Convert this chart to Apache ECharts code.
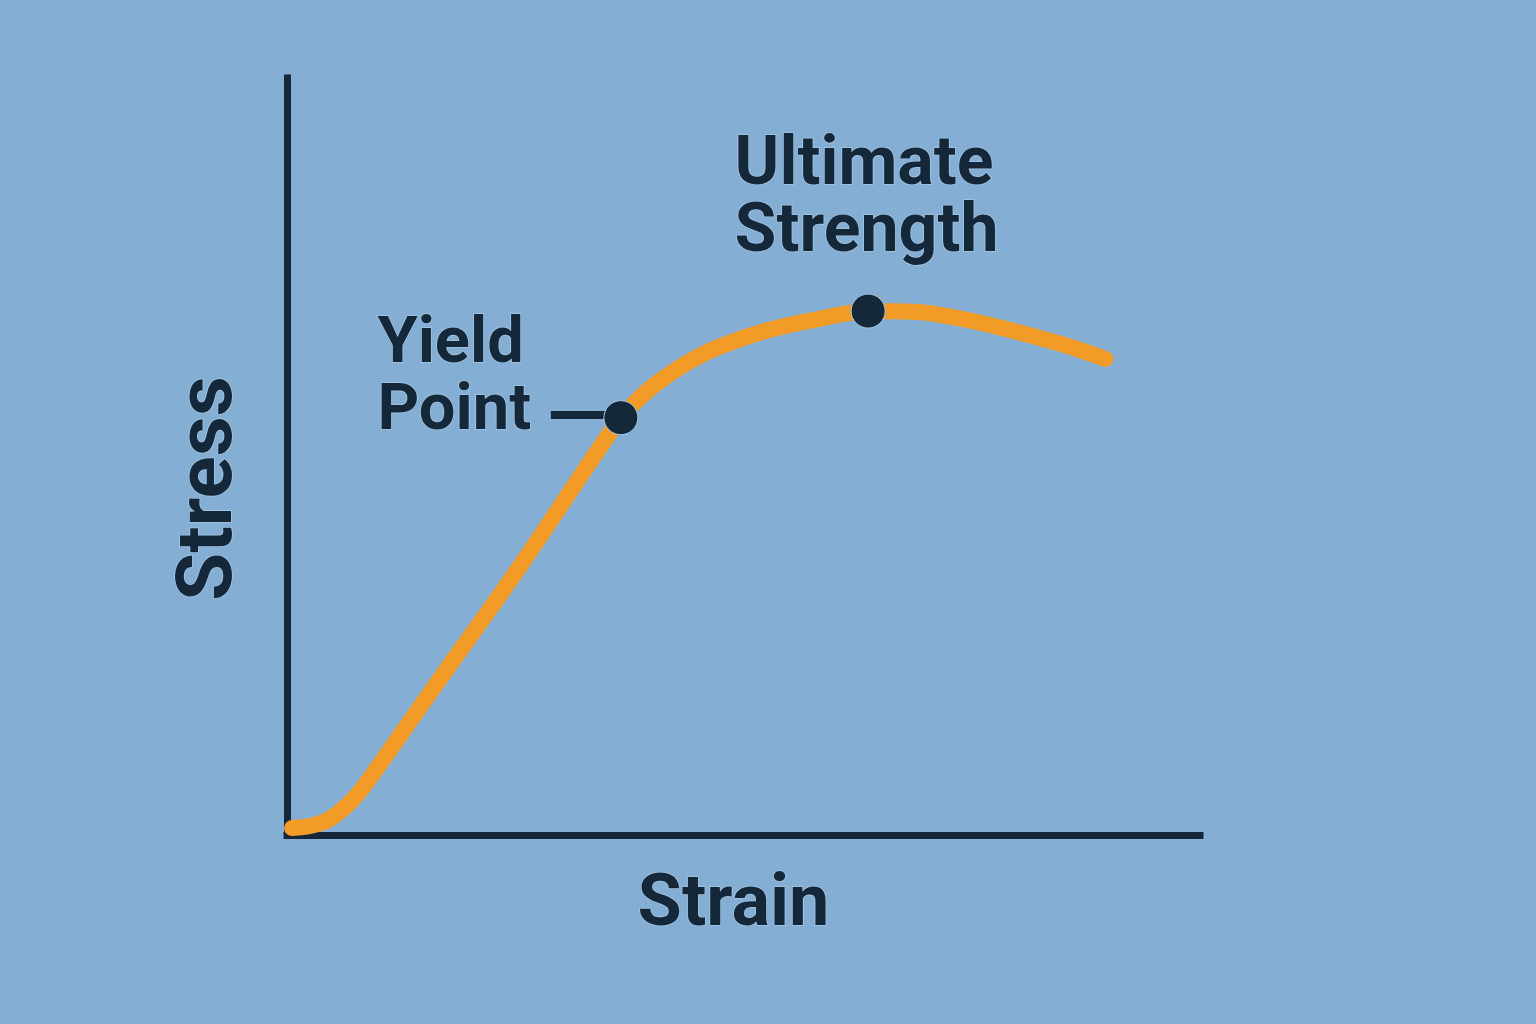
<!DOCTYPE html>
<html>
<head>
<meta charset="utf-8">
<script src="https://cdn.jsdelivr.net/npm/echarts@6/dist/echarts.min.js"></script>
<style>
html,body{margin:0;padding:0;background:#84AED3;}
#chart{width:1536px;height:1024px;}
</style>
</head>
<body>
<div id="chart"></div>
<script>
// Stress-strain curve (normalised units, 0-100 on both axes)
var strain = [0.55, 2.51, 4.69, 7.64, 11.24, 14.85, 18.56, 22.16, 25.76, 28.93, 31.99, 34.72, 36.57, 38.54, 40.72, 44.00, 47.27, 52.73, 58.19, 63.65, 69.10, 74.56, 80.02, 85.48, 89.63];
var stress = [0.92, 1.18, 2.11, 5.26, 11.18, 17.37, 23.68, 29.74, 35.92, 41.58, 47.11, 51.97, 55.13, 57.63, 59.87, 62.50, 64.47, 66.71, 68.16, 69.21, 69.08, 68.03, 66.45, 64.61, 62.89];
var keyNames = ['Yield\nPoint', 'Ultimate\nStrength'];
var keyStrain = [36.57, 63.65];
var keyStress = [55.13, 69.21];
var leaderStart = 28.9; // strain where the yield-point leader line begins

var ink = '#15283A';
var halo = '#A6C8E6';
var font = 'Roboto, "Noto Sans", sans-serif';

var curve = strain.map(function (x, i) { return [x, stress[i]]; });

var chart = echarts.init(document.getElementById('chart'));
chart.setOption({
  backgroundColor: '#84AED3',
  animation: false,
  grid: { left: 287, top: 78, right: 336, bottom: 189 },
  xAxis: {
    type: 'value', min: 0, max: 100,
    name: 'Strain', nameLocation: 'middle', nameGap: 72,
    nameTextStyle: { fontFamily: font, fontWeight: 'bold', fontSize: 72, color: ink, verticalAlign: 'middle', padding: [0, 20, 0, 0], textBorderColor: halo, textBorderWidth: 1.5 },
    axisLine: { show: true, onZero: false, lineStyle: { color: ink, width: 7, cap: 'square' } },
    axisTick: { show: false }, axisLabel: { show: false }, splitLine: { show: false }
  },
  yAxis: {
    type: 'value', min: 0, max: 100,
    name: 'Stress', nameLocation: 'middle', nameGap: 76,
    nameTextStyle: { fontFamily: font, fontWeight: 'bold', fontSize: 78, color: ink, verticalAlign: 'middle', padding: [0, 64, 0, 0], textBorderColor: halo, textBorderWidth: 1.5 },
    axisLine: { show: true, onZero: false, lineStyle: { color: ink, width: 7, cap: 'square' } },
    axisTick: { show: false }, axisLabel: { show: false }, splitLine: { show: false }
  },
  series: [
    {
      type: 'line',
      data: curve,
      smooth: 0.3,
      showSymbol: false,
      lineStyle: { color: '#F29B26', width: 16, cap: 'round', join: 'round' },
      z: 2
    },
    {
      type: 'scatter',
      symbolSize: 34,
      itemStyle: { color: ink, opacity: 1, borderColor: halo, borderWidth: 1 },
      z: 4,
      data: [
        {
          value: [keyStrain[0], keyStress[0]], name: keyNames[0],
          label: { show: true, position: [-226, -21], align: 'left', verticalAlign: 'middle', fontSize: 65 }
        },
        {
          value: [keyStrain[1], keyStress[1]], name: keyNames[1],
          label: { show: true, position: [-116, -93], align: 'left', verticalAlign: 'middle' }
        }
      ],
      label: {
        formatter: function (p) { return p.name; },
        fontFamily: font, fontWeight: 'bold', fontSize: 68, lineHeight: 67,
        color: ink, opacity: 1, textBorderColor: halo, textBorderWidth: 1.5
      },
      emphasis: { disabled: true },
      markLine: {
        silent: true,
        symbol: 'none',
        label: { show: false },
        lineStyle: { color: ink, width: 8, type: 'solid', opacity: 1 },
        data: [[{ coord: [leaderStart, keyStress[0] + 0.4] }, { coord: [keyStrain[0], keyStress[0] + 0.4] }]],
        z: 3
      }
    }
  ]
});
</script>
</body>
</html>
